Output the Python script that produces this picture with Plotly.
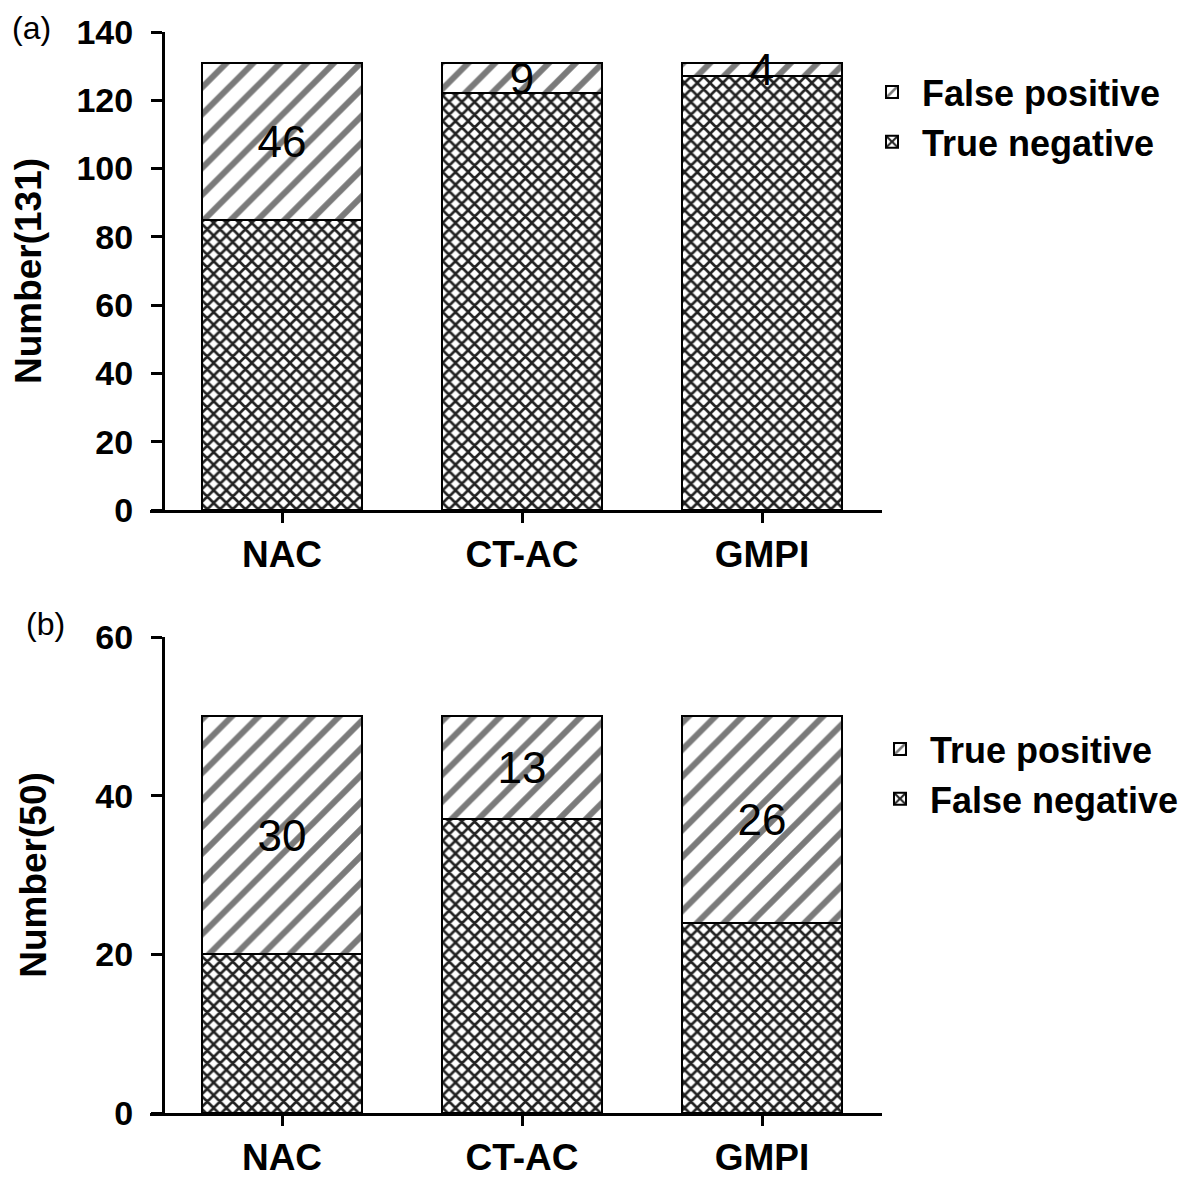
import plotly.graph_objects as go

categories = ["NAC", "CT-AC", "GMPI"]

# Panel (a): 131 negatives
true_negative = [85, 122, 127]
false_positive = [46, 9, 4]

# Panel (b): 50 positives
false_negative = [20, 37, 24]
true_positive = [30, 13, 26]

y_ticks_a = [0, 20, 40, 60, 80, 100, 120, 140]
y_ticks_b = [0, 20, 40, 60]

FONT = "Liberation Sans, Arial, sans-serif"
stripe = dict(shape="/", fgcolor="#7a7a7a", bgcolor="white", size=19, solidity=0.32)
hatch = dict(shape="x", fgcolor="#222222", bgcolor="white", size=9, solidity=0.5)
bar_w = 0.665
line = dict(color="black", width=2)
label_font = dict(family=FONT, size=44, color="black")

# page has an 8px body margin; figure sized to fit the 1200x1180 window
OFF = 8
W, H = 1192, 1172


def fx(p):
    return (p - OFF) / W


def fy(p):
    return 1 - (p - OFF) / H


fig = go.Figure()

fig.add_trace(go.Bar(x=categories, y=true_negative, name="True negative", width=bar_w,
                     marker=dict(color="white", pattern=hatch, line=line),
                     xaxis="x", yaxis="y", legend="legend"))
fig.add_trace(go.Bar(x=categories, y=false_positive, name="False positive", width=bar_w,
                     marker=dict(color="white", pattern=stripe, line=line),
                     text=false_positive, texttemplate="%{text}", textposition="inside",
                     insidetextanchor="middle", constraintext="none", textangle=0,
                     textfont=label_font, cliponaxis=False,
                     xaxis="x", yaxis="y", legend="legend"))

fig.add_trace(go.Bar(x=categories, y=false_negative, name="False negative", width=bar_w,
                     marker=dict(color="white", pattern=hatch, line=line),
                     xaxis="x2", yaxis="y2", legend="legend2"))
fig.add_trace(go.Bar(x=categories, y=true_positive, name="True positive", width=bar_w,
                     marker=dict(color="white", pattern=stripe, line=line),
                     text=true_positive, texttemplate="%{text}", textposition="inside",
                     insidetextanchor="middle", constraintext="none", textangle=0,
                     textfont=label_font, cliponaxis=False,
                     xaxis="x2", yaxis="y2", legend="legend2"))

xdom = [fx(150), fx(882)]
ypos = fx(163)

xcommon = dict(type="category", range=[-0.55, 2.5], domain=xdom, showline=True,
               linecolor="black", linewidth=3, ticks="outside", ticklen=10, tickwidth=3,
               tickcolor="black", showgrid=False, zeroline=False, automargin=False,
               tickfont=dict(family=FONT, size=37, color="black", weight="bold"),
               ticklabelstandoff=0)
ycommon = dict(anchor="free", position=ypos, showline=True, linecolor="black", linewidth=3,
               ticks="outside", ticklen=11, tickwidth=3, tickcolor="black",
               showgrid=False, zeroline=False, automargin=False,
               tickfont=dict(family=FONT, size=34, color="black", weight="bold"),
               ticklabelstandoff=11,
               title_font=dict(family=FONT, size=37, color="black", weight="bold"))

legcommon = dict(font=dict(family=FONT, size=36, color="black", weight="bold"),
                 traceorder="reversed", bgcolor="rgba(0,0,0,0)", xanchor="left",
                 yanchor="top", itemwidth=50)

fig.update_layout(
    width=W, height=H, template="none",
    paper_bgcolor="white", plot_bgcolor="white",
    margin=dict(l=0, r=0, t=0, b=0),
    barmode="stack", bargap=0.335,
    xaxis=dict(xcommon, anchor="y"),
    yaxis=dict(ycommon, domain=[fy(510), fy(32)], range=[0, 140],
               tickvals=y_ticks_a, title=dict(text="Number(131)", standoff=36)),
    xaxis2=dict(xcommon, anchor="y2"),
    yaxis2=dict(ycommon, domain=[fy(1113), fy(637)], range=[0, 60],
                tickvals=y_ticks_b, title=dict(text="Number(50)", standoff=36)),
    legend=dict(legcommon, x=fx(862), y=fy(62)),
    legend2=dict(legcommon, x=fx(870), y=fy(719)),
    annotations=[
        dict(text="(a)", x=fx(10), y=fy(8), xref="paper", yref="paper",
             xanchor="left", yanchor="top",
             showarrow=False, font=dict(family=FONT, size=32, color="black")),
        dict(text="(b)", x=fx(45), y=fy(624), xref="paper", yref="paper",
             xanchor="center", yanchor="middle",
             showarrow=False, font=dict(family=FONT, size=32, color="black")),
    ],
)

fig.write_html("out.html")
